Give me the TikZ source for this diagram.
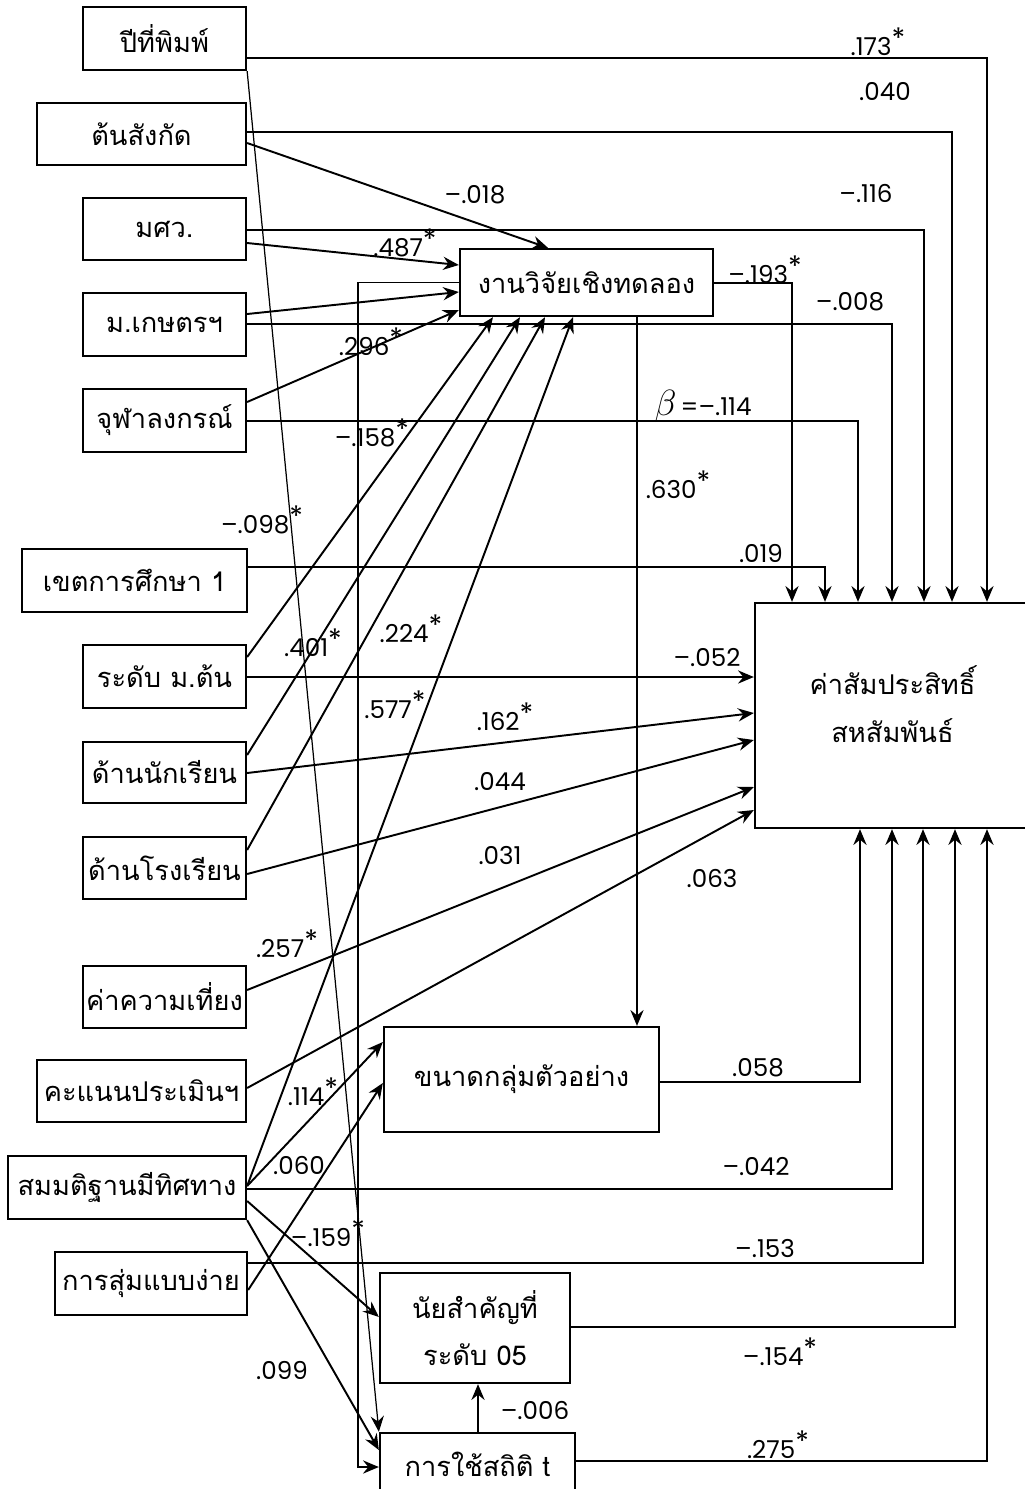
\documentclass[tikz,border=0pt]{standalone}
\usepackage{fontspec}
\newfontfamily\thaifont[Script=Thai]{Loma}
\newfontfamily\numfont{Poppins}
\usetikzlibrary{arrows.meta}
\newcommand\signif{\raisebox{.28em}{\fontsize{16}{16}\selectfont*}}

\begin{document}
\begin{tikzpicture}[x=0.02cm,y=-0.02cm,line width=1.1pt,
        >={Stealth[length=9pt,width=7.5pt,inset=3pt]},
        var/.style={draw, line width=1.3pt, inner sep=0pt, align=center, font=\thaifont\fontsize{15.5}{27}\selectfont},
        sz/.style 2 args={minimum width=#1*0.02cm, minimum height=#2*0.02cm},
        coef/.style={inner sep=0pt, font=\numfont\fontsize{14}{16}\selectfont}]
        \useasboundingbox (0,0) rectangle (1025,1489);
        \node [var, sz={163}{63}] (pub) at (164.5,38.5) {ปีที่พิมพ์};
        \node [var, sz={209}{62}] (aff) at (141.5,134) {ต้นสังกัด};
        \node [var, sz={163}{62}] (swu) at (164.5,229) {มศว.};
        \node [var, sz={163}{63}] (ku) at (164.5,324.5) {ม.เกษตรฯ};
        \node [var, sz={163}{63}] (cu) at (164.5,420.5) {จุฬาลงกรณ์};
        \node [var, sz={225}{63}] (zone) at (134.5,580.5) {เขตการศึกษา 1};
        \node [var, sz={163}{63}] (lower) at (164.5,676.5) {ระดับ ม.ต้น};
        \node [var, sz={163}{61}] (stu) at (164.5,772.5) {ด้านนักเรียน};
        \node [var, sz={163}{62}] (sch) at (164.5,868) {ด้านโรงเรียน};
        \node [var, sz={163}{62}] (rel) at (164.5,997) {ค่าความเที่ยง};
        \node [var, sz={209}{62}] (eva) at (141.5,1091) {คะแนนประเมินฯ};
        \node [var, sz={238}{63}] (hyp) at (127,1187.5) {สมมติฐานมีทิศทาง};
        \node [var, sz={192}{63}] (rand) at (151,1283.5) {การสุ่มแบบง่าย};
        \node [var, sz={253}{67}] (exp) at (586.5,282.5) {งานวิจัยเชิงทดลอง};
        \node [var, sz={275}{105}] (size) at (521.5,1079.5) {ขนาดกลุ่มตัวอย่าง};
        \node [var, sz={190}{110}] (sig) at (475,1328) {นัยสำคัญที่\\ระดับ 05};
        \node [var, sz={195}{62}] (ttest) at (477.5,1464) {การใช้สถิติ t};
        \node [var, sz={275}{225}] (res) at (892.5,715.5) {ค่าสัมประสิทธิ์\\สหสัมพันธ์\\[-14pt]};
        % to the outcome
        \draw [->] (pub.east |- 0,58) -| (987,0 |- res.north);
        \draw [->] (aff.east |- 0,132) -| (952,0 |- res.north);
        \draw [->] (swu.east |- 0,230) -| (924,0 |- res.north);
        \draw [->] (ku.east |- 0,324) -| (892,0 |- res.north);
        \draw [->] (cu.east |- 0,421) -| (858,0 |- res.north);
        \draw [->] (zone.east |- 0,567) -| (825,0 |- res.north);
        \draw [->] (exp.east |- 0,283) -| (792,0 |- res.north);
        \draw [->] (lower.east |- 0,677) -- (res.west |- 0,677);
        \draw [->] (stu.east |- 0,773) -- (res.west |- 0,713);
        \draw [->] (sch.east |- 0,874) -- (res.west |- 0,740);
        \draw [->] (rel.east |- 0,990) -- (res.west |- 0,787);
        \draw [->] (eva.east |- 0,1088) -- (res.west |- 0,810);
        \draw [->] (size.east |- 0,1082) -| (860,0 |- res.south);
        \draw [->] (hyp.east |- 0,1189) -| (892,0 |- res.south);
        \draw [->] (rand.east |- 0,1263) -| (923,0 |- res.south);
        \draw [->] (sig.east |- 0,1327) -| (955,0 |- res.south);
        \draw [->] (ttest.east |- 0,1461) -| (987,0 |- res.south);
        % to the mediators
        \draw [->] (aff.east |- 0,143) -- (548,0 |- exp.north);
        \draw [->] (swu.east |- 0,243) -- (exp.west |- 0,265);
        \draw [->] (ku.east |- 0,314) -- (exp.west |- 0,292);
        \draw [->] (cu.east |- 0,402) -- (exp.west |- 0,310);
        \draw [->] (lower.east |- 0,657) -- (493,0 |- exp.south);
        \draw [->] (stu.east |- 0,755) -- (520,0 |- exp.south);
        \draw [->] (sch.east |- 0,850) -- (545,0 |- exp.south);
        \draw [->] (hyp.east |- 0,1186) -- (573,0 |- exp.south);
        \draw [->] (637,0 |- exp.south) -- (637,0 |- size.north);
        \draw [->] (exp.west) -| (358,1467) -- (ttest.west |- 0,1467);
        \draw [->, line width=.7pt] (pub.south east) -- (ttest.north west);
        \draw [->] (hyp.east |- 0,1186) -- (size.west |- 0,1042);
        \draw [->] (rand.east |- 0,1290) -- (size.west |- 0,1083);
        \draw [->] (hyp.east |- 0,1201) -- (sig.west |- 0,1317);
        \draw [->] (hyp.south east) -- (ttest.west |- 0,1450);
        \draw [->] (478,0 |- ttest.north) -- (478,0 |- sig.south);
        % coefficients
        \node [coef] (b173) at (878,42) {.173\signif};
        \node [coef] (b040) at (885,92) {.040};
        \node [coef] (b018) at (475,195) {–.018};
        \node [coef] (b116) at (866,193) {–.116};
        \node [coef] (b487) at (405,243) {.487\signif};
        \node [coef] (b193) at (765,270) {–.193\signif};
        \node [coef] (b008) at (850,302) {–.008};
        \node [coef] (b296) at (371,342) {.296\signif};
        \node [coef, anchor=base] (b114) at (703,415) {{\fontsize{22}{24}\selectfont$\beta$}\,=–.114};
        \node [coef] (b158) at (372,433) {–.158\signif};
        \node [coef] (b630) at (678,485) {.630\signif};
        \node [coef] (b098) at (262,520) {–.098\signif};
        \node [coef] (b019) at (761,553) {.019};
        \node [coef] (b224) at (411,629) {.224\signif};
        \node [coef] (b401) at (313,643) {.401\signif};
        \node [coef] (b052) at (707,658) {–.052};
        \node [coef] (b577) at (395,705) {.577\signif};
        \node [coef] (b162) at (505,717) {.162\signif};
        \node [coef] (b044) at (500,782) {.044};
        \node [coef] (b031) at (500,855) {.031};
        \node [coef] (b063) at (712,878) {.063};
        \node [coef] (b257) at (287,944) {.257\signif};
        \node [coef] (b058) at (758,1068) {.058};
        \node [coef] (b114s) at (313,1092) {.114\signif};
        \node [coef] (b042) at (756,1167) {–.042};
        \node [coef] (b060) at (299,1165) {.060};
        \node [coef] (b159) at (328,1233) {–.159\signif};
        \node [coef] (b153) at (765,1248) {–.153};
        \node [coef] (b154) at (780,1352) {–.154\signif};
        \node [coef] (b099) at (282,1370) {.099};
        \node [coef] (b006) at (535,1410) {–.006};
        \node [coef] (b275) at (778,1445) {.275\signif};
    \end{tikzpicture}
\end{document}
